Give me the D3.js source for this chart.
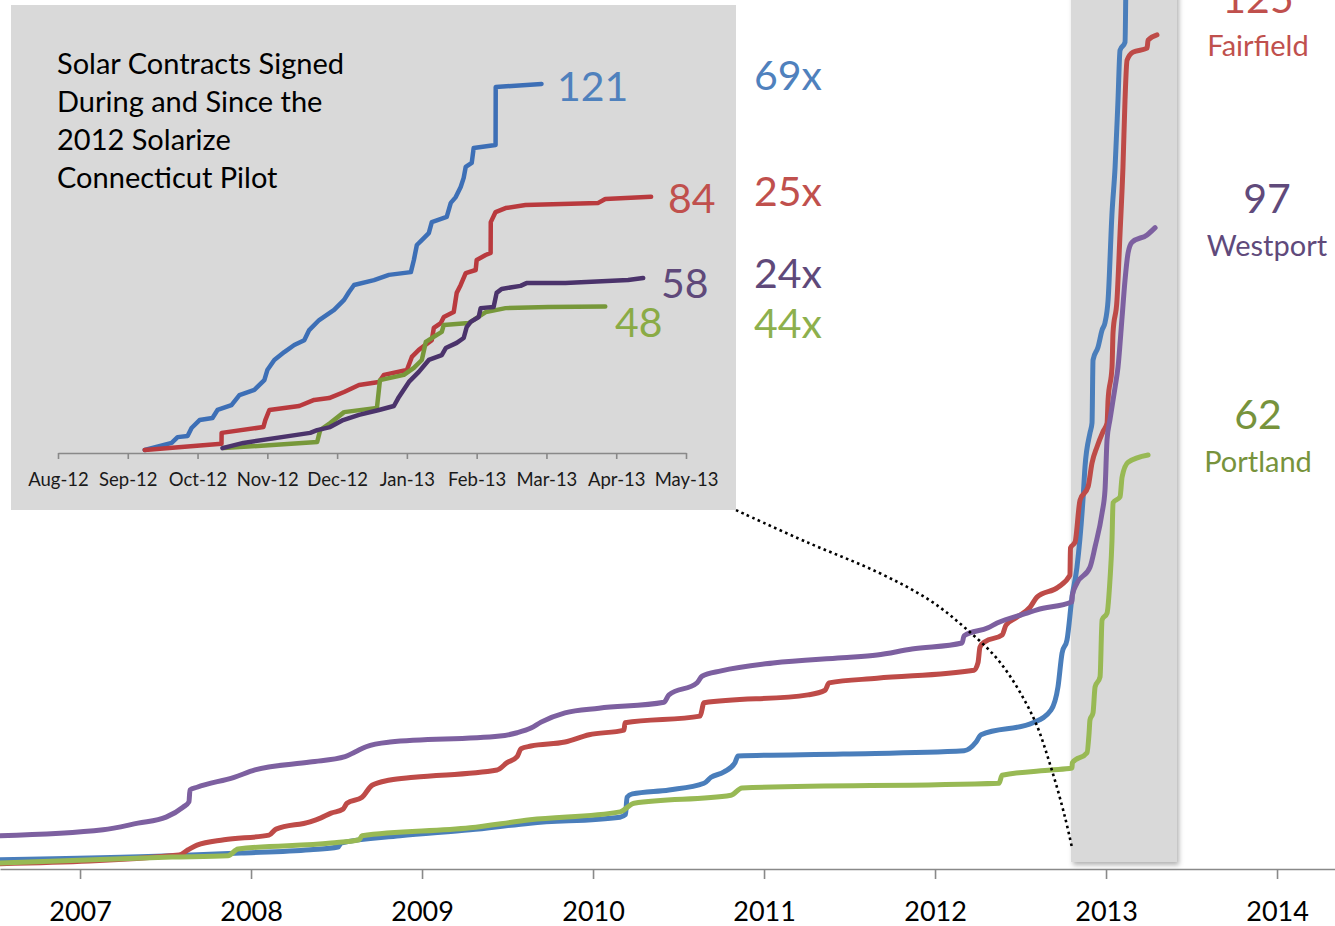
<!DOCTYPE html>
<meta charset="utf-8">
<script src="https://d3js.org/d3.v7.min.js"></script>
<style>
  body { margin: 0; background: #fff; }
  text { font-family: Lato, "Open Sans", sans-serif; }
</style>
<div id="chart"></div>
<script>
// ---- main chart data: cumulative contracts, [decimal year, count]
const years = [2007, 2008, 2009, 2010, 2011, 2012, 2013, 2014];
const campaign = [2012.795, 2013.415];

const mainBlue = [[2006.532,1.4],[2007.538,2.0],[2007.942,2.4],[2008.345,2.9],[2008.509,3.3],[2008.526,3.9],[2008.871,5.0],[2009.281,5.9],[2009.632,6.9],[2010.158,7.8],[2010.190,8.2],[2010.199,10.8],[2010.230,11.3],[2010.444,11.9],[2010.649,12.9],[2010.690,13.8],[2010.766,14.6],[2010.830,16.0],[2010.848,17.0],[2011.462,17.3],[2012.170,17.8],[2012.240,19.1],[2012.269,20.2],[2012.573,22.0],[2012.678,23.9],[2012.719,27.4],[2012.743,32.5],[2012.772,34.5],[2012.801,40.9],[2012.830,45.4],[2012.865,55.5],[2012.877,60.5],[2012.906,65.6],[2012.918,67.1],[2012.924,76.6],[2012.953,78.5],[2012.977,81.1],[2012.994,82.2],[2013.012,85.6],[2013.035,98.7],[2013.053,105.6],[2013.070,115.7],[2013.082,123.2],[2013.111,124.4],[2013.117,136]];

const mainRed = [[2006.532,0.8],[2007.579,2.1],[2007.632,2.9],[2007.684,3.6],[2007.842,4.4],[2008.105,5.1],[2008.146,6.0],[2008.345,7.1],[2008.409,7.7],[2008.468,8.4],[2008.538,9.0],[2008.561,9.9],[2008.649,10.8],[2008.708,12.6],[2008.813,13.4],[2008.953,13.8],[2009.439,14.9],[2009.497,16.0],[2009.556,16.9],[2009.579,18.1],[2009.637,18.5],[2009.836,19.1],[2009.977,20.2],[2010.181,20.9],[2010.187,22.0],[2010.626,23.0],[2010.649,25.0],[2011.257,26.2],[2011.357,26.9],[2011.380,28.0],[2011.661,28.7],[2012.228,29.9],[2012.251,31.0],[2012.263,33.4],[2012.292,34.2],[2012.392,35.2],[2012.415,36.7],[2012.474,37.8],[2012.556,39.4],[2012.596,40.9],[2012.719,42.4],[2012.789,44.2],[2012.792,48.3],[2012.819,49.2],[2012.848,55.5],[2012.895,57.5],[2012.918,61.1],[2012.947,63.5],[2012.982,65.8],[2013.006,67.1],[2013.012,70.6],[2013.035,75.5],[2013.041,80.7],[2013.064,85.6],[2013.082,95.7],[2013.099,105.6],[2013.111,115.7],[2013.123,121.7],[2013.158,122.9],[2013.240,123.5],[2013.246,124.7],[2013.298,125.5]];

const mainPurple = [[2006.532,5.0],[2007.135,5.9],[2007.339,6.9],[2007.503,7.8],[2007.602,9.3],[2007.637,10.1],[2007.643,11.9],[2007.684,12.3],[2007.901,13.8],[2008.023,14.9],[2008.345,16.1],[2008.550,16.9],[2008.608,17.6],[2008.673,18.4],[2008.813,19.1],[2009.456,20.0],[2009.556,20.5],[2009.637,21.2],[2009.696,22.1],[2009.836,23.5],[2010.035,24.2],[2010.415,25.1],[2010.444,26.2],[2010.608,28.0],[2010.637,29.0],[2010.749,29.8],[2011.053,31.0],[2011.456,31.8],[2011.661,32.2],[2011.865,33.1],[2012.158,34.0],[2012.170,35.1],[2012.310,36.3],[2012.363,37.0],[2012.538,38.5],[2012.596,39.0],[2012.801,40.2],[2012.803,41.2],[2012.830,43.0],[2012.906,45.4],[2012.936,48.5],[2012.977,53.6],[2012.994,57.0],[2013.006,64.6],[2013.023,67.6],[2013.053,72.5],[2013.070,75.5],[2013.094,83.1],[2013.111,88.6],[2013.129,92.7],[2013.152,94.3],[2013.240,95.4],[2013.287,96.5]];

const mainGreen = [[2006.532,0.9],[2007.538,1.8],[2007.865,2.0],[2007.924,3.0],[2008.468,3.9],[2008.632,4.4],[2008.649,5.0],[2009.281,6.2],[2009.632,7.4],[2010.158,8.6],[2010.240,9.9],[2010.807,11.1],[2010.871,12.2],[2012.374,12.9],[2012.392,14.1],[2012.678,14.9],[2012.801,15.2],[2012.803,16.0],[2012.889,17.5],[2012.901,20.5],[2012.906,22.4],[2012.924,23.5],[2012.936,27.4],[2012.965,28.9],[2012.977,37.5],[2013.006,38.5],[2013.023,43.5],[2013.035,49.5],[2013.041,55.1],[2013.082,56.0],[2013.094,59.0],[2013.129,61.2],[2013.246,62.3]];

const towns = ["Fairfield", "Westport", "Portland"];
const townTotals = [125, 97, 62];

// ---- inset data: month index from Aug-12, cumulative count
const months = ["Aug-12","Sep-12","Oct-12","Nov-12","Dec-12","Jan-13","Feb-13","Mar-13","Apr-13","May-13"];

const insetBlue = [[1.243,1.0],[1.629,3.3],[1.714,5.2],[1.857,5.6],[1.914,8.2],[2.029,10.8],[2.214,11.5],[2.286,14.1],[2.486,15.7],[2.600,19.0],[2.814,20.7],[2.957,23.9],[3.000,27.2],[3.100,30.5],[3.243,33.1],[3.386,35.4],[3.529,37.0],[3.600,40.3],[3.743,43.6],[3.957,46.9],[4.100,50.2],[4.171,52.8],[4.243,55.1],[4.529,56.7],[4.743,58.4],[5.057,59.3],[5.100,63.3],[5.143,68.2],[5.214,69.8],[5.314,72.1],[5.357,75.7],[5.571,77.4],[5.629,82.0],[5.700,83.9],[5.771,87.2],[5.814,90.2],[5.843,93.8],[5.929,95.1],[5.957,100.0],[6.271,101.0],[6.273,120.0],[6.929,121.0]];

const insetRed = [[1.243,1.0],[2.343,3.0],[2.345,6.6],[2.943,8.5],[2.971,10.8],[3.029,14.1],[3.457,15.4],[3.671,17.4],[3.886,18.0],[4.100,20.0],[4.314,22.3],[4.600,23.3],[4.671,25.6],[5.000,27.2],[5.071,31.5],[5.171,33.8],[5.357,37.0],[5.386,41.0],[5.486,42.6],[5.529,44.6],[5.671,46.2],[5.714,52.5],[5.771,55.1],[5.843,59.0],[5.986,60.0],[6.000,63.3],[6.129,64.9],[6.200,65.6],[6.202,75.7],[6.271,79.0],[6.414,80.3],[6.700,81.3],[7.743,82.0],[7.843,83.3],[8.500,84.0]];

const insetPurple = [[2.357,1.6],[2.657,3.3],[3.614,6.6],[3.714,7.5],[3.900,8.5],[4.086,10.8],[4.314,12.5],[4.600,14.1],[4.814,15.4],[4.886,18.4],[5.029,23.3],[5.171,26.6],[5.314,30.5],[5.500,32.1],[5.557,34.4],[5.714,36.1],[5.814,37.7],[5.857,41.3],[5.914,43.0],[6.029,44.6],[6.057,47.5],[6.243,47.9],[6.286,52.5],[6.357,53.8],[6.629,54.8],[6.714,55.7],[7.271,55.7],[8.171,56.7],[8.386,57.4]];

const insetGreen = [[2.371,1.6],[3.714,3.6],[3.757,7.5],[3.900,9.8],[4.100,13.4],[4.571,14.8],[4.614,23.9],[4.957,25.6],[5.100,27.9],[5.214,30.5],[5.271,36.4],[5.357,37.7],[5.500,39.7],[5.529,42.0],[5.886,42.6],[6.129,46.2],[6.414,47.5],[7.029,47.9],[7.843,48.0]];

const insetTotals = [121, 84, 58, 48];
const growth = ["69x", "25x", "24x", "44x"];

// leader from inset to start of the campaign, [year, count] on main axes
const leader = [[2010.836,54.0],[2011.257,49.1],[2011.661,44.7],[2011.965,40.5],[2012.170,36.4],[2012.380,31.1],[2012.573,22.9],[2012.678,15.3],[2012.760,7.8],[2012.801,3.2]];

const W = 1335, H = 926;
const svg = d3.select("#chart").append("svg")
  .attr("width", W).attr("height", H)
  .style("background", "#fff");

const defs = svg.append("defs");
const f = defs.append("filter").attr("id", "shadow")
  .attr("x", "-10%").attr("y", "-5%").attr("width", "130%").attr("height", "115%");
f.append("feDropShadow").attr("dx", 2).attr("dy", 3).attr("stdDeviation", 2.5)
  .attr("flood-color", "#000").attr("flood-opacity", 0.3);

// main scales
const x = d3.scaleLinear().domain([2006.532, 2014.339]).range([0, W]);
const y = d3.scaleLinear().domain([0, 130]).range([869, 5]);

// campaign band
svg.append("rect")
  .attr("x", x(campaign[0])).attr("y", -10)
  .attr("width", x(campaign[1]) - x(campaign[0]))
  .attr("height", 862 + 10)
  .attr("fill", "#d9d9d9")
  .attr("filter", "url(#shadow)");

// main axis
const xAxis = svg.append("g")
  .attr("transform", "translate(0,869)")
  .call(d3.axisBottom(x).tickValues(years).tickFormat(d3.format("d")).tickSize(10).tickSizeOuter(0));
xAxis.select(".domain").attr("stroke", "#898989").attr("stroke-width", 1.6);
xAxis.selectAll(".tick line").attr("stroke", "#898989").attr("stroke-width", 1.6);
xAxis.selectAll(".tick text")
  .attr("y", 52).attr("dy", 0)
  .style("font-size", "27px").attr("fill", "#000");

// main lines
const line = d3.line().x(d => x(d[0])).y(d => y(d[1])).curve(d3.curveMonotoneX);
const mainSeries = [
  {data: mainBlue, color: "#4a7ebb"},
  {data: mainRed, color: "#be4b48"},
  {data: mainPurple, color: "#7d60a0"},
  {data: mainGreen, color: "#98b954"}
];
svg.selectAll("path.main")
  .data(mainSeries)
  .join("path")
    .attr("class", "main")
    .attr("d", d => line(d.data))
    .attr("fill", "none")
    .attr("stroke", d => d.color)
    .attr("stroke-width", 5)
    .attr("stroke-linejoin", "round")
    .attr("stroke-linecap", "round");

// town labels
const townColors = ["#c0504d", "#604a7b", "#77933c"];
const townPos = [{x: 1258, y: 13}, {x: 1267, y: 213}, {x: 1258, y: 429}];
townPos.forEach((p, i) => {
  svg.append("text").attr("x", p.x).attr("y", p.y)
    .attr("text-anchor", "middle").attr("fill", townColors[i])
    .style("font-size", "41px").text(townTotals[i]);
  svg.append("text").attr("x", p.x).attr("y", p.y + 43)
    .attr("text-anchor", "middle").attr("fill", townColors[i])
    .style("font-size", "29px").text(towns[i]);
});

// ---- inset
svg.append("rect")
  .attr("x", 11).attr("y", 5).attr("width", 725).attr("height", 505)
  .attr("fill", "#d9d9d9");

const ix = d3.scaleLinear().domain([0, 9]).range([58, 686]);
const iy = d3.scaleLinear().domain([0, 140]).range([453, 26]);

const iAxis = svg.append("g")
  .attr("transform", "translate(0,453)")
  .call(d3.axisBottom(ix).tickValues(d3.range(10)).tickFormat(i => months[i]).tickSize(6).tickSizeOuter(0));
iAxis.select(".domain").attr("stroke", "#898989").attr("stroke-width", 1.6);
iAxis.selectAll(".tick line").attr("stroke", "#898989").attr("stroke-width", 1.6);
iAxis.selectAll(".tick text")
  .attr("y", 33).attr("dy", 0)
  .style("font-size", "18.5px").attr("fill", "#1a1a1a");

const iline = d3.line().x(d => ix(d[0])).y(d => iy(d[1]));
const insetSeries = [
  {data: insetBlue, color: "#3d6fb6"},
  {data: insetRed, color: "#b93a3e"},
  {data: insetGreen, color: "#77983a"},
  {data: insetPurple, color: "#4b336b"}
];
svg.selectAll("path.inset")
  .data(insetSeries)
  .join("path")
    .attr("class", "inset")
    .attr("d", d => iline(d.data))
    .attr("fill", "none")
    .attr("stroke", d => d.color)
    .attr("stroke-width", 4.5)
    .attr("stroke-linejoin", "round")
    .attr("stroke-linecap", "round");

// title
const title = ["Solar Contracts Signed", "During and Since the", "2012 Solarize", "Connecticut Pilot"];
svg.append("g").selectAll("text")
  .data(title)
  .join("text")
    .attr("x", 57).attr("y", (d, i) => 74 + i * 38)
    .style("font-size", "29px").attr("fill", "#000")
    .text(d => d);

// inset totals and growth multipliers
const totalColors = ["#4f81bd", "#c0504d", "#5f497a", "#8aab45"];
const totalPos = [{x: 557, y: 101}, {x: 668, y: 213}, {x: 661, y: 298}, {x: 615, y: 337}];
svg.append("g").selectAll("text")
  .data(insetTotals)
  .join("text")
    .attr("x", (d, i) => totalPos[i].x).attr("y", (d, i) => totalPos[i].y)
    .attr("fill", (d, i) => totalColors[i])
    .style("font-size", "41px")
    .text(d => d);

const growthColors = ["#4f81bd", "#c0504d", "#5f497a", "#8db04d"];
const growthY = [90, 206, 288, 338];
svg.append("g").selectAll("text")
  .data(growth)
  .join("text")
    .attr("x", 754).attr("y", (d, i) => growthY[i])
    .attr("fill", (d, i) => growthColors[i])
    .style("font-size", "41px")
    .text(d => d);

// dotted leader
svg.append("path")
  .attr("d", d3.line().x(d => x(d[0])).y(d => y(d[1])).curve(d3.curveCatmullRom)(leader))
  .attr("fill", "none")
  .attr("stroke", "#000")
  .attr("stroke-width", 2.6)
  .attr("stroke-dasharray", "2.6 3.4");
</script>
